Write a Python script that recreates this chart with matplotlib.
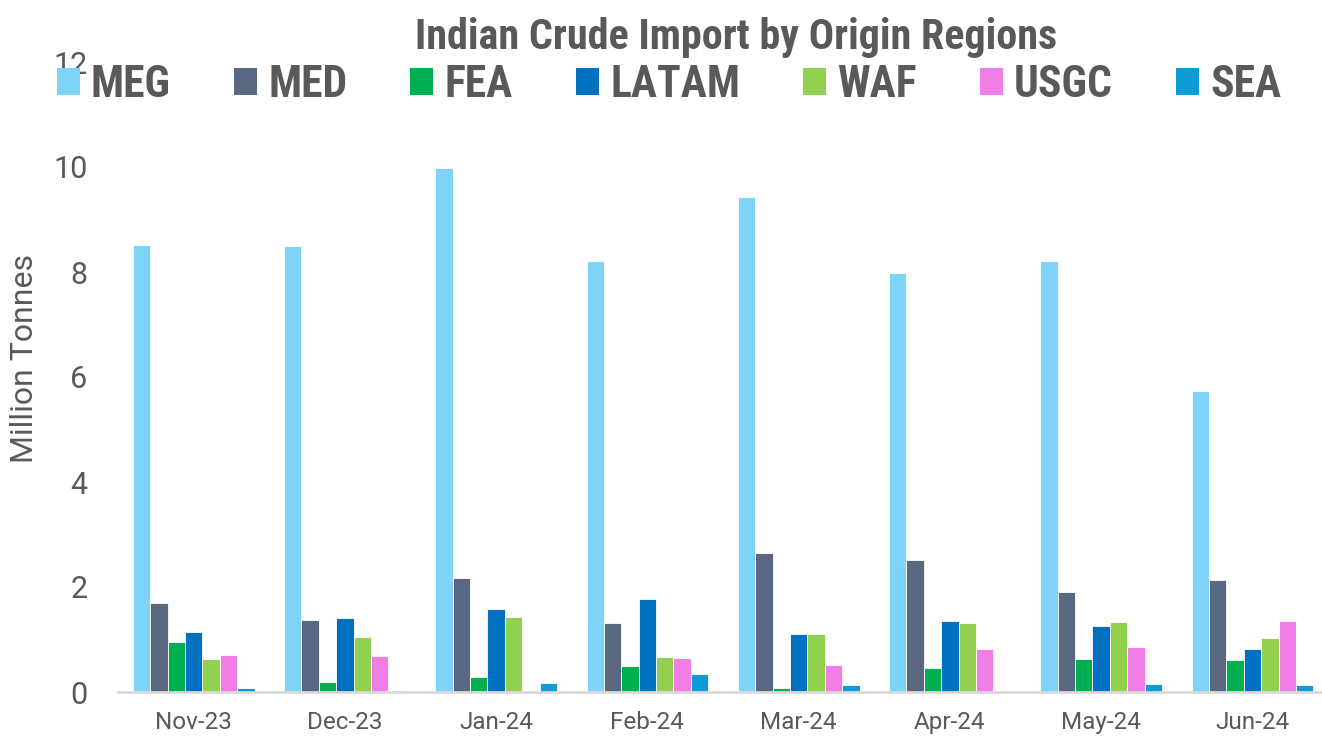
import matplotlib
matplotlib.use("Agg")
import matplotlib.pyplot as plt
import numpy as np
from matplotlib import font_manager
from matplotlib.patches import Patch

months = ["Nov-23", "Dec-23", "Jan-24", "Feb-24", "Mar-24", "Apr-24", "May-24", "Jun-24"]
regions = ["MEG", "MED", "FEA", "LATAM", "WAF", "USGC", "SEA"]

meg = [8.51, 8.49, 9.98, 8.21, 9.43, 7.98, 8.21, 5.74]
med = [1.70, 1.37, 2.18, 1.32, 2.65, 2.52, 1.91, 2.14]
fea = [0.95, 0.19, 0.29, 0.50, 0.08, 0.46, 0.63, 0.61]
latam = [1.15, 1.41, 1.58, 1.77, 1.11, 1.36, 1.26, 0.82]
waf = [0.63, 1.05, 1.43, 0.67, 1.11, 1.32, 1.34, 1.03]
usgc = [0.71, 0.69, 0.0, 0.65, 0.52, 0.82, 0.86, 1.36]
sea = [0.08, 0.02, 0.17, 0.34, 0.13, 0.0, 0.15, 0.13]

series = [meg, med, fea, latam, waf, usgc, sea]
colors = ["#7FD3F7", "#596780", "#00B050", "#0070C0", "#92D050", "#F07EE6", "#0E9AD6"]

names = {f.name for f in font_manager.fontManager.ttflist}
base_font = "Roboto" if "Roboto" in names else "DejaVu Sans"
bold_font = base_font
for cand in ["Roboto Condensed", "Liberation Sans Narrow", "Open Sans Condensed"]:
    if cand in names:
        bold_font = cand
        break

text_color = "#595959"
plt.rcParams["font.family"] = [base_font, "DejaVu Sans"]

fig = plt.figure(figsize=(13.22, 7.39), dpi=100)
ax = fig.add_axes([118/1322, 47/739, (1322-118)/1322, (692-62)/739])

x = np.arange(len(months))
w = 0.115
for i, (vals, c) in enumerate(zip(series, colors)):
    ax.bar(x + (i - 3) * w, vals, width=w, color=c, edgecolor="white", linewidth=0.6, label=regions[i])

ax.set_xlim(-0.5, 7.46)
ax.set_ylim(0, 12)
ax.set_yticks(np.arange(0, 13, 2))
ax.set_xticks(x)
ax.set_xticklabels(months)
ax.tick_params(axis="y", length=0, pad=22, labelsize=22, labelcolor=text_color)
ax.tick_params(axis="x", length=0, pad=14, labelsize=17.5, labelcolor=text_color)
for s in ["top", "right", "left"]:
    ax.spines[s].set_visible(False)
ax.spines["bottom"].set_color("#D9D9D9")
ax.spines["bottom"].set_linewidth(2)
ax.set_ylabel("Million Tonnes", fontsize=23, color=text_color)
ax.yaxis.set_label_coords(-0.066, 0.53)

fig.text(736/1322, 1 - 38/739, "Indian Crude Import by Origin Regions", ha="center", va="center",
         fontsize=30.3, fontweight="bold", color=text_color, family=[bold_font, "DejaVu Sans"])

handles = [Patch(facecolor=c, edgecolor="none") for c in colors]
leg = fig.legend(handles, regions, loc="center", bbox_to_anchor=(669/1322, 1 - 85/739), ncol=7,
                 frameon=False, borderpad=0, handlelength=0.53, handleheight=0.58, handletextpad=0.26,
                 columnspacing=1.44,
                 prop={"family": [bold_font, "DejaVu Sans"], "weight": "bold", "size": 31.4})
for t in leg.get_texts():
    t.set_color(text_color)

fig.savefig("out.png", dpi=100)
